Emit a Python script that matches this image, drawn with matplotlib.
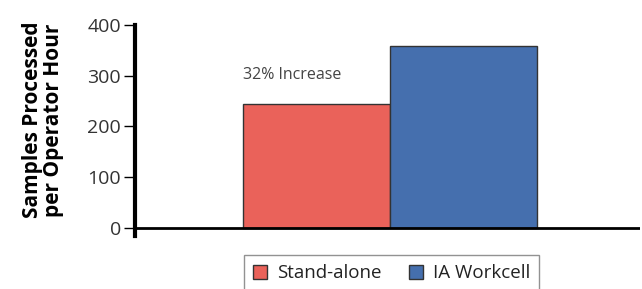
import matplotlib.pyplot as plt
from matplotlib.patches import Patch

plt.rcParams['font.family'] = ['Open Sans', 'DejaVu Sans']

categories = ['Stand-alone', 'IA Workcell']
values = [244, 358]
colors = ['#ea625a', '#456fae']
note = '32% Increase'

fig = plt.figure(figsize=(6.42, 2.89), dpi=100)
ax = fig.add_axes([135 / 642, 1 - 236 / 289, 505 / 642, 211 / 289])

ax.bar([0, 1], values, width=1.0, color=colors, edgecolor='#333333', linewidth=1)
ax.axhline(0, color='black', linewidth=2, zorder=3)

ax.set_xlim(-1.235, 2.2)
ax.set_ylim(-16, 400)
ax.set_yticks([0, 100, 200, 300, 400])
ax.set_xticks([])
ax.spines['top'].set_visible(False)
ax.spines['right'].set_visible(False)
ax.spines['bottom'].set_visible(False)
ax.spines['left'].set_linewidth(3)
ax.tick_params(axis='y', direction='out', length=8, width=1, labelsize=14,
               labelcolor='#333333', pad=2)
ax.set_ylabel('Samples Processed\nper Operator Hour', fontsize=15,
              fontweight='bold', linespacing=1.0)
ax.yaxis.set_label_coords(-0.14, 0.55)

ax.text(-0.5, 301, note, fontsize=11.5, color='#444444', ha='left', va='center')

handles = [Patch(facecolor=c, edgecolor='#333333', label=l) for c, l in zip(colors, categories)]
fig.legend(handles=handles, loc='upper center', bbox_to_anchor=(391.5 / 642, 1 - 255 / 289),
           ncol=2, fontsize=13.5, frameon=True, fancybox=False, edgecolor='#777777',
           handlelength=0.75, handleheight=0.75, handletextpad=0.5, columnspacing=1.5,
           borderpad=0.5, borderaxespad=0, labelcolor='#222222')

fig.savefig('out.png', dpi=100)
